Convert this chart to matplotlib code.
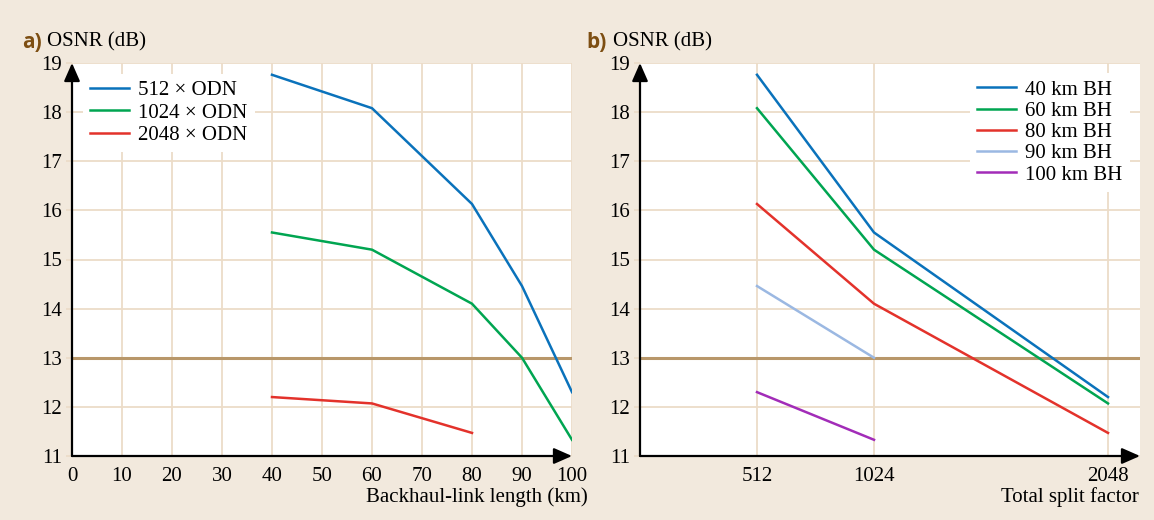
import matplotlib
matplotlib.use("Agg")
import matplotlib.pyplot as plt

# OSNR (dB) versus backhaul-link length for each ODN split
bh_length_km = [40, 60, 80, 90, 100]
osnr_512 = [18.76, 18.08, 16.13, 14.46, 12.30]
bh_length_1024 = [40, 60, 80, 90, 100]
osnr_1024 = [15.55, 15.20, 14.10, 13.00, 11.33]
bh_length_2048 = [40, 60, 80]
osnr_2048 = [12.20, 12.07, 11.47]
labels_a = ["512 × ODN", "1024 × ODN", "2048 × ODN"]

# OSNR (dB) versus total split factor for each backhaul length
split_factor = [512, 1024, 2048]
osnr_bh40 = [18.76, 15.55, 12.20]
osnr_bh60 = [18.08, 15.20, 12.07]
osnr_bh80 = [16.13, 14.10, 11.47]
split_bh90 = [512, 1024]
osnr_bh90 = [14.46, 13.00]
split_bh100 = [512, 1024]
osnr_bh100 = [12.30, 11.33]
labels_b = ["40 km BH", "60 km BH", "80 km BH", "90 km BH", "100 km BH"]

x_ticks_a = [0, 10, 20, 30, 40, 50, 60, 70, 80, 90, 100]
y_ticks = [11, 12, 13, 14, 15, 16, 17, 18, 19]
osnr_threshold = 13

BG = "#f2e9dd"
GRID = "#ecdcc8"
THRESH = "#b8976a"
BLUE = "#0a72bb"
GREEN = "#00a551"
RED = "#e3322b"
LIGHTBLUE = "#9bb8e2"
PURPLE = "#a22cb8"
BROWN = "#7d4e12"
FS = 15

plt.rcParams["font.family"] = ["Liberation Serif", "DejaVu Serif"]

fig = plt.figure(figsize=(11.54, 5.20), dpi=100, facecolor=BG)
ax_a = fig.add_axes([72 / 1154, 1 - 456 / 520, 500 / 1154, 393 / 520])
ax_b = fig.add_axes([640 / 1154, 1 - 456 / 520, 500 / 1154, 393 / 520])


def style_axes(ax):
    ax.set_facecolor("white")
    ax.set_ylim(11, 19)
    ax.set_yticks(y_ticks)
    for side in ("top", "right", "left", "bottom"):
        ax.spines[side].set_visible(False)
    ax.grid(True, color=GRID, lw=1.3, zorder=0)
    ax.set_axisbelow(True)
    ax.tick_params(axis="y", length=4, color=GRID, width=1.3, pad=3,
                   labelsize=FS)
    ax.tick_params(axis="x", length=0, pad=8, labelsize=FS)
    ax.axhline(osnr_threshold, color=THRESH, lw=2.2, zorder=2)
    # axis lines with arrowheads
    ax.annotate("", xy=(0, 1.0), xytext=(0, 0), xycoords="axes fraction",
                arrowprops=dict(arrowstyle="-|>,head_length=0.5,head_width=0.22",
                                color="black", lw=1.6, mutation_scale=22,
                                shrinkA=0, shrinkB=0),
                zorder=5, annotation_clip=False)
    ax.annotate("", xy=(1.0, 0), xytext=(0, 0), xycoords="axes fraction",
                arrowprops=dict(arrowstyle="-|>,head_length=0.5,head_width=0.22",
                                color="black", lw=1.6, mutation_scale=22,
                                shrinkA=0, shrinkB=0),
                zorder=5, annotation_clip=False)


legend_style = dict(borderaxespad=0, frameon=True, facecolor="white",
                    edgecolor="none", framealpha=1, fancybox=False,
                    fontsize=FS, handlelength=1.87, handletextpad=0.45,
                    borderpad=0.35)

# Panel a
style_axes(ax_a)
ax_a.set_xlim(0, 100)
ax_a.set_xticks(x_ticks_a)
lw = 1.8
ax_a.plot(bh_length_km, osnr_512, color=BLUE, lw=lw, label=labels_a[0], zorder=3)
ax_a.plot(bh_length_1024, osnr_1024, color=GREEN, lw=lw, label=labels_a[1], zorder=3)
ax_a.plot(bh_length_2048, osnr_2048, color=RED, lw=lw, label=labels_a[2], zorder=3)
leg_a = ax_a.legend(loc="upper left", bbox_to_anchor=(0.021, 0.973),
                    labelspacing=0.13, **legend_style)
leg_a.set_zorder(4)

# Panel b
style_axes(ax_b)
ax_b.set_xlim(0, 2188)
ax_b.set_xticks(split_factor)
ax_b.plot(split_factor, osnr_bh40, color=BLUE, lw=lw, label=labels_b[0], zorder=3)
ax_b.plot(split_factor, osnr_bh60, color=GREEN, lw=lw, label=labels_b[1], zorder=3)
ax_b.plot(split_factor, osnr_bh80, color=RED, lw=lw, label=labels_b[2], zorder=3)
ax_b.plot(split_bh90, osnr_bh90, color=LIGHTBLUE, lw=lw, label=labels_b[3], zorder=3)
ax_b.plot(split_bh100, osnr_bh100, color=PURPLE, lw=lw, label=labels_b[4], zorder=3)
leg_b = ax_b.legend(loc="upper right", bbox_to_anchor=(0.98, 0.975),
                    labelspacing=0.08, **legend_style)
leg_b.set_zorder(4)

# Panel letters and axis titles
sans = ["Open Sans", "DejaVu Sans"]
fig.text(22 / 1154, 1 - 42 / 520, "a)", family=sans, fontweight="bold",
         fontsize=15, color=BROWN, va="center", ha="left")
fig.text(47 / 1154, 1 - 42 / 520, "OSNR (dB)", fontsize=FS, va="center",
         ha="left")
fig.text(586 / 1154, 1 - 42 / 520, "b)", family=sans, fontweight="bold",
         fontsize=15, color=BROWN, va="center", ha="left")
fig.text(613 / 1154, 1 - 42 / 520, "OSNR (dB)", fontsize=FS, va="center",
         ha="left")
fig.text(588 / 1154, 1 - 497 / 520, "Backhaul-link length (km)", fontsize=FS,
         va="center", ha="right")
fig.text(1139 / 1154, 1 - 497 / 520, "Total split factor", fontsize=FS,
         va="center", ha="right")

fig.savefig("out.png", dpi=100, facecolor=BG)
